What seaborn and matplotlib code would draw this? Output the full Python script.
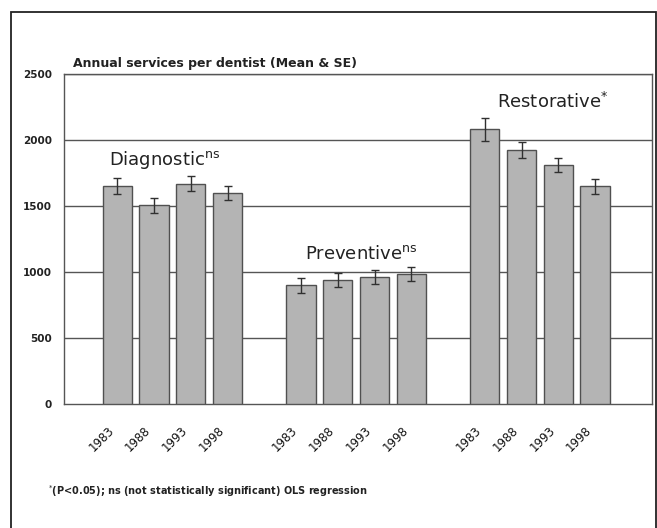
import matplotlib
matplotlib.use("Agg")
import matplotlib.pyplot as plt
from matplotlib.patches import Rectangle
import numpy as np
import pandas as pd
import seaborn as sns

# ---- data -------------------------------------------------------------
groups = ["Diagnostic", "Preventive", "Restorative"]
group_marks = ["ns", "ns", "*"]
years = ["1983", "1988", "1993", "1998"]
diagnostic = [1650, 1505, 1670, 1600]
diagnostic_se = [62, 55, 55, 55]
preventive = [900, 940, 960, 985]
preventive_se = [58, 52, 52, 55]
restorative = [2080, 1925, 1810, 1650]
restorative_se = [90, 62, 55, 58]
y_ticks = [0, 500, 1000, 1500, 2000, 2500]

title = "Annual services per dentist (Mean & SE)"
footnote = "(P<0.05); ns (not statistically significant) OLS regression"

# slot layout: empty slot, 4 bars, empty slot, 4 bars, empty slot, 4 bars, empty slot
group_slots = [[1, 2, 3, 4], [6, 7, 8, 9], [11, 12, 13, 14]]
n_slots = 16

rows = []
for g, vals, ses, slots in zip(groups, [diagnostic, preventive, restorative],
                               [diagnostic_se, preventive_se, restorative_se],
                               group_slots):
    for yr, v, se, s in zip(years, vals, ses, slots):
        rows.append({"group": g, "year": yr, "value": v, "se": se, "slot": s})
df = pd.DataFrame(rows)

# ---- style ------------------------------------------------------------
sns.set_theme(style="white")
plt.rcParams["font.family"] = ["DejaVu Sans"]
plt.rcParams["mathtext.fontset"] = "dejavusans"

fig = plt.figure(figsize=(6.57, 5.28), dpi=100)
W, H = 657, 528
ax = fig.add_axes([64 / W, (H - 404) / H, 588 / W, 330 / H])

sns.barplot(data=df, x="slot", y="value", native_scale=True, width=0.8,
            color="#b4b4b4", saturation=1, edgecolor="#505050", linewidth=1.0,
            errorbar=None, ax=ax, zorder=3)
ax.errorbar(df["slot"], df["value"], yerr=df["se"], fmt="none",
            ecolor="#303030", elinewidth=1.0, capsize=3, capthick=1.0, zorder=4)

x0 = -0.45
ax.set_xlim(x0, x0 + n_slots)
ax.set_ylim(0, 2500)

# horizontal gridlines
ax.set_yticks(y_ticks)
ax.set_yticklabels([str(t) for t in y_ticks], fontsize=7.5, fontweight="bold",
                   color="#222222")
for t in y_ticks[1:]:
    ax.axhline(t, color="#555555", lw=1.0, zorder=1)

# slot boundary tick marks on the x axis; year labels sit just left of each
# bar centre so the slanted text ends under the bar
ax.set_xticks(np.arange(n_slots + 1) + x0, minor=True)
ax.set_xticks(df["slot"] - 0.27)
ax.set_xticklabels(df["year"], rotation=45, ha="right", va="top",
                   rotation_mode="anchor", fontsize=8.5, color="#111111")
ax.tick_params(axis="x", which="major", length=0, pad=14)
ax.tick_params(axis="x", which="minor", length=5, direction="inout",
               color="#555555", width=1.0)
ax.tick_params(axis="y", length=5, direction="inout", color="#555555",
               width=1.0, pad=6)
ax.set_xlabel("")
ax.set_ylabel("")

for side in ["left", "right", "bottom", "top"]:
    ax.spines[side].set_visible(True)
    ax.spines[side].set_color("#555555")
    ax.spines[side].set_linewidth(1.0)

# group headings
heading_pos = [(0.78, 1845), (6.12, 1135), (11.33, 2285)]
for g, m, (hx, hy) in zip(groups, group_marks, heading_pos):
    label = g + (r"$^{*}$" if m == "*" else r"$^{\mathrm{" + m + "}}$")
    ax.text(hx, hy, label, fontsize=13, color="#222222", va="center",
            ha="left", zorder=5)

# title and footnote
fig.text(73 / W, 1 - 63 / H, title, fontsize=9, fontweight="bold",
         color="#222222", va="center", ha="left")
fig.text(48 / W, 1 - 491 / H, r"$^{*}$" + footnote, fontsize=7,
         fontweight="bold", color="#222222", va="center", ha="left")

# outer frame
fig.add_artist(Rectangle((10.5 / W, -5 / H), 645 / W, (H - 11.5 + 5) / H,
                         transform=fig.transFigure, fill=False, lw=1.3,
                         ec="#222222"))

fig.savefig("out.png", dpi=100, facecolor="white")
